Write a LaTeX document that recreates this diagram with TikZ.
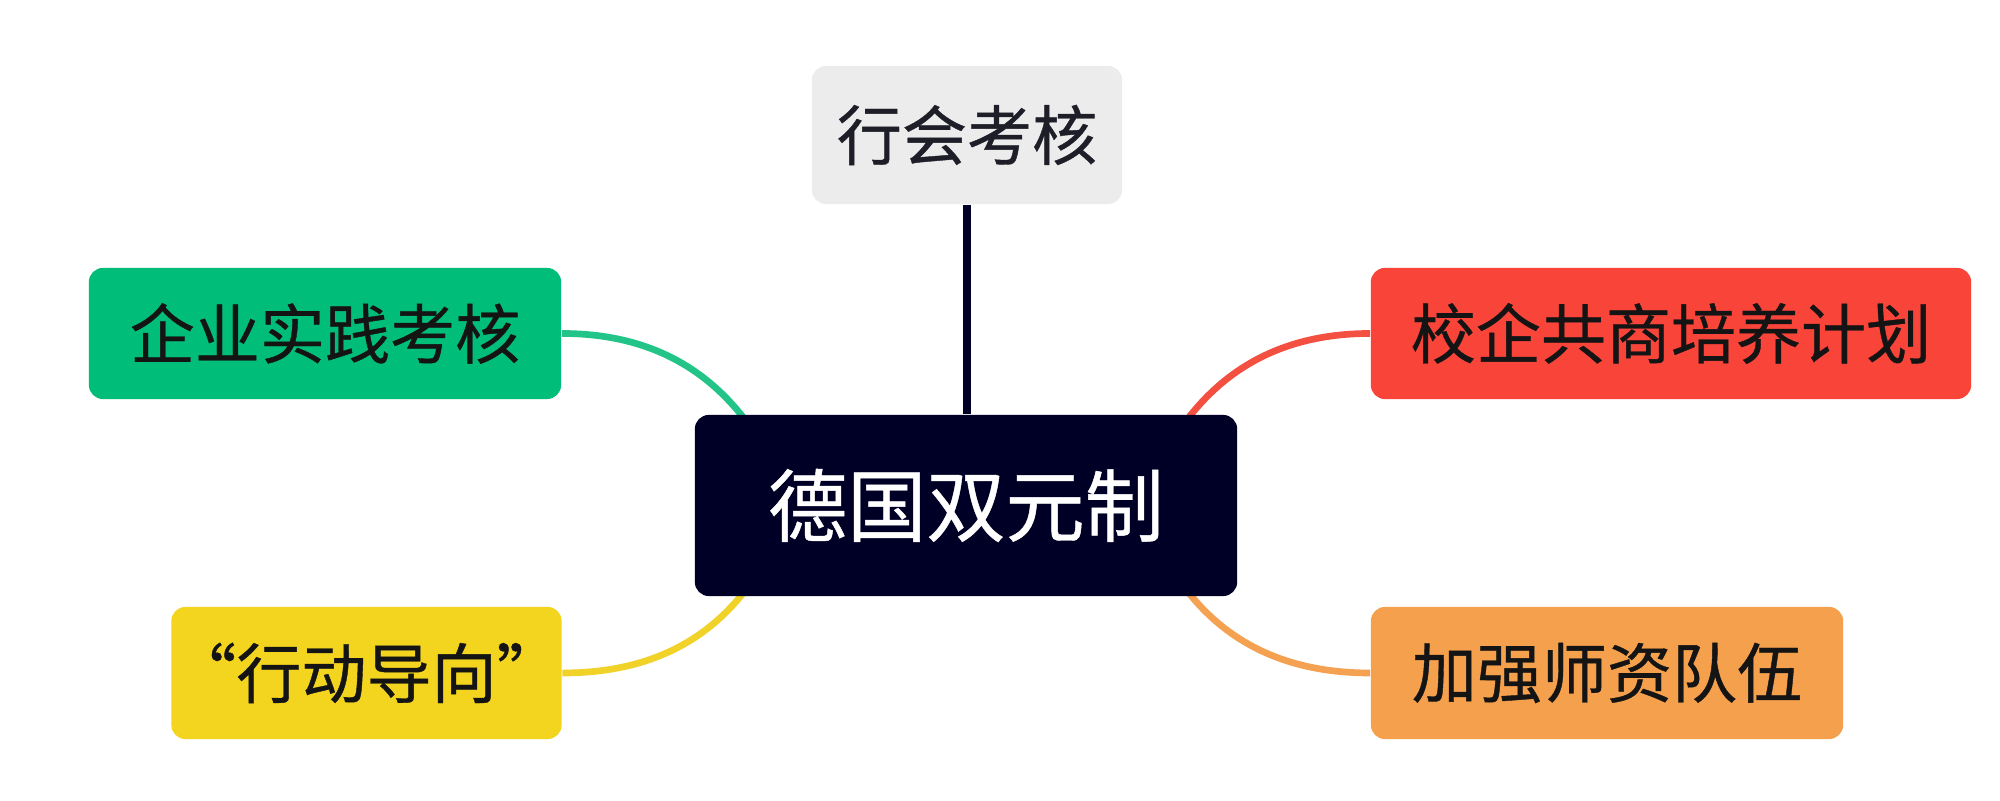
\documentclass[tikz,border=0pt]{standalone}
\usepackage{fontspec}
\newfontfamily\cjk[FakeBold=0.6]{Noto Sans CJK SC}
\usetikzlibrary{calc,backgrounds}
\definecolor{topgray}{RGB}{236,236,236}
\definecolor{navy}{RGB}{0,0,38}
\definecolor{cgreen}{RGB}{0,190,122}
\definecolor{lgreen}{RGB}{35,196,136}
\definecolor{cred}{RGB}{249,68,58}
\definecolor{lred}{RGB}{244,80,66}
\definecolor{cyellow}{RGB}{243,212,30}
\definecolor{lyellow}{RGB}{240,210,40}
\definecolor{corange}{RGB}{245,160,76}
\definecolor{lorange}{RGB}{244,162,82}
\definecolor{txt}{RGB}{20,20,20}
\tikzset{
  box/.style={rectangle, rounded corners=0.14cm, inner sep=0pt, text=txt,
    font=\cjk\fontsize{18.5}{22}\selectfont},
  link/.style={line width=1.9pt},
}
\begin{document}
\begin{tikzpicture}[x=0.01cm,y=0.01cm]
\useasboundingbox (0,0) rectangle (2000,801);
\node[box, fill=topgray, minimum width=3.10cm, minimum height=1.38cm, text={rgb,255:red,30;green,30;blue,40}] (top) at (967,666) {行会考核};
\node[box, fill=navy, text=white, minimum width=5.42cm, minimum height=1.81cm,
  font=\cjk\fontsize{22.5}{26}\selectfont] (ctr) at (966,295.5) {德国双元制};
\node[box, fill=cgreen, minimum width=4.72cm, minimum height=1.31cm] (green) at (325,467.5) {企业实践考核};
\node[box, fill=cred, minimum width=6.00cm, minimum height=1.31cm] (red) at (1671,467.5) {校企共商培养计划};
\node[box, fill=cyellow, minimum width=3.89cm, minimum height=1.32cm] (yellow) at (366.5,128) {“行动导向”};
\node[box, fill=corange, minimum width=4.72cm, minimum height=1.32cm] (orange) at (1607,128) {加强师资队伍};
\coordinate (ctl) at ($(ctr.north west)+(76,-45)$);
\coordinate (ctr2) at ($(ctr.north east)+(-76,-45)$);
\coordinate (cbl) at ($(ctr.south west)+(76,45)$);
\coordinate (cbr) at ($(ctr.south east)+(-76,45)$);
\begin{scope}[on background layer]
\fill[white] (0,0) rectangle (2000,801);
\draw[link, lgreen] (green.east) to[out=0,in=118,looseness=1.0] (ctl);
\draw[link, lred] (red.west) to[out=180,in=62,looseness=1.0] (ctr2);
\draw[link, lyellow] (yellow.east) to[out=0,in=-118,looseness=1.0] (cbl);
\draw[link, lorange] (orange.west) to[out=180,in=-62,looseness=1.0] (cbr);
\draw[line width=2.3pt, navy] (top.south) -- (top.south |- ctr.north);
\end{scope}
\end{tikzpicture}
\end{document}
